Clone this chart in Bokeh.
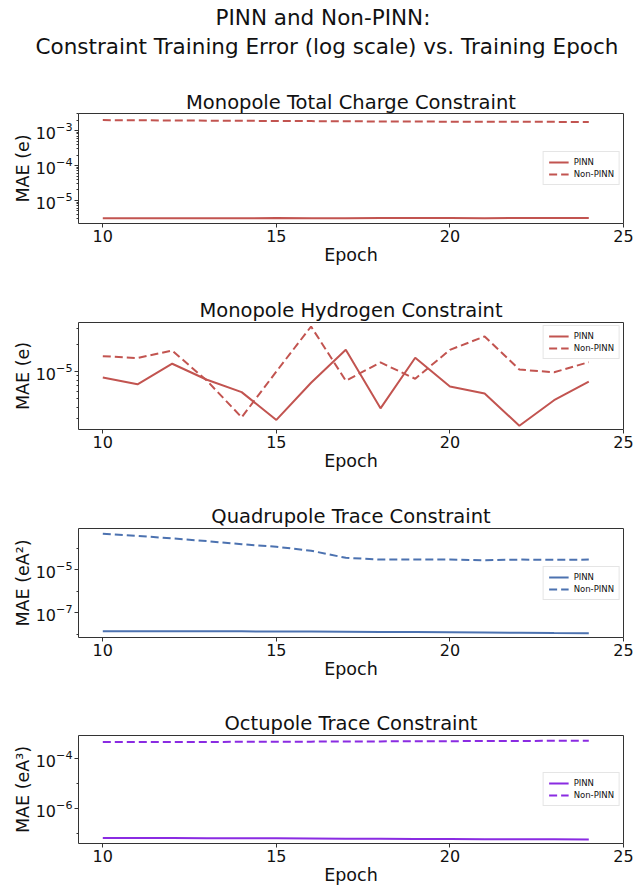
from bokeh.plotting import figure
from bokeh.layouts import column
from bokeh.models import Title, FixedTicker, Range1d
from bokeh.embed import file_html
from bokeh.resources import INLINE

# ---- data -------------------------------------------------------------
epochs = list(range(10, 25))

charge_pinn = [3.10e-6, 3.08e-6, 3.12e-6, 3.10e-6, 3.11e-6, 3.13e-6, 3.12e-6, 3.12e-6,
               3.14e-6, 3.15e-6, 3.13e-6, 3.12e-6, 3.14e-6, 3.15e-6, 3.16e-6]
charge_nonpinn = [2.00e-3, 1.98e-3, 1.95e-3, 1.93e-3, 1.91e-3, 1.89e-3, 1.87e-3, 1.85e-3,
                  1.83e-3, 1.82e-3, 1.80e-3, 1.79e-3, 1.80e-3, 1.78e-3, 1.77e-3]

hydrogen_pinn = [8.6e-6, 7.2e-6, 1.22e-5, 8.1e-6, 5.9e-6, 2.9e-6, 7.5e-6, 1.74e-5,
                 3.9e-6, 1.42e-5, 6.8e-6, 5.7e-6, 2.5e-6, 4.8e-6, 7.7e-6]
hydrogen_nonpinn = [1.48e-5, 1.41e-5, 1.71e-5, 7.9e-6, 3.1e-6, 1.0e-5, 3.16e-5, 7.9e-6,
                    1.26e-5, 8.3e-6, 1.74e-5, 2.45e-5, 1.05e-5, 9.8e-6, 1.27e-5]

quad_pinn = [1.35e-8, 1.35e-8, 1.34e-8, 1.34e-8, 1.33e-8, 1.32e-8, 1.30e-8, 1.28e-8,
             1.26e-8, 1.24e-8, 1.21e-8, 1.18e-8, 1.15e-8, 1.12e-8, 1.10e-8]
quad_nonpinn = [4.6e-4, 3.7e-4, 2.8e-4, 2.1e-4, 1.5e-4, 1.15e-4, 7.5e-5, 3.5e-5,
                2.9e-5, 2.9e-5, 2.9e-5, 2.7e-5, 2.9e-5, 2.85e-5, 2.9e-5]

oct_pinn = [6.5e-8, 6.45e-8, 6.4e-8, 6.35e-8, 6.3e-8, 6.25e-8, 6.2e-8, 6.1e-8,
            6.0e-8, 5.95e-8, 5.9e-8, 5.8e-8, 5.75e-8, 5.7e-8, 5.6e-8]
oct_nonpinn = [4.30e-4, 4.32e-4, 4.35e-4, 4.38e-4, 4.42e-4, 4.46e-4, 4.50e-4, 4.55e-4,
               4.60e-4, 4.65e-4, 4.70e-4, 4.75e-4, 4.80e-4, 4.85e-4, 4.90e-4]

x_ticks = [10, 15, 20, 25]

charge_major = [1e-5, 1e-4, 1e-3]
charge_minor = [k * 10.0 ** e for e in (-6, -5, -4, -3) for k in range(2, 10)]
hydrogen_major = [1e-5]
hydrogen_minor = [3e-6, 4e-6, 5e-6, 6e-6, 7e-6, 8e-6, 9e-6, 2e-5, 3e-5]
quad_major = [1e-7, 1e-5]
quad_minor = [1e-8, 1e-6, 1e-4]
oct_major = [1e-6, 1e-4]
oct_minor = [1e-7, 1e-5]

FONT = "DejaVu Sans"


def style_title(t, size, standoff):
    t.align = "center"
    t.text_font = FONT
    t.text_font_size = size
    t.text_font_style = "normal"
    t.text_color = "#111111"
    t.standoff = standoff


def make_panel(title, ylabel, color, pinn, nonpinn, y_lo, y_hi, majors, minors,
               height, top, bottom, legend_loc):
    p = figure(width=636, height=height,
               x_range=Range1d(9.3, 25), y_range=Range1d(y_lo, y_hi),
               y_axis_type="log", output_backend="svg", toolbar_location=None,
               min_border_left=78, min_border_right=13,
               min_border_top=top, min_border_bottom=bottom)
    p.grid.visible = False
    p.outline_line_color = "#333333"
    p.outline_line_width = 1
    p.background_fill_color = "white"
    p.border_fill_color = "white"

    xa = p.xaxis[0]
    xa.ticker = FixedTicker(ticks=x_ticks)
    xa.axis_label = "Epoch"
    ya = p.yaxis[0]
    ya.ticker = FixedTicker(ticks=majors, minor_ticks=minors)
    ya.axis_label = ylabel
    for ax in (xa, ya):
        ax.axis_line_color = None
        ax.major_tick_in = 0
        ax.major_tick_out = 4
        ax.major_tick_line_color = "#333333"
        ax.minor_tick_in = 0
        ax.minor_tick_out = 2
        ax.minor_tick_line_color = "#333333"
        ax.major_label_text_font = FONT
        ax.major_label_text_font_size = "16px"
        ax.major_label_text_color = "#111111"
        ax.major_label_standoff = 2
        ax.axis_label_text_font = FONT
        ax.axis_label_text_font_size = "17.5px"
        ax.axis_label_text_font_style = "normal"
        ax.axis_label_text_color = "#111111"
        ax.axis_label_standoff = 0
    xa.minor_tick_line_color = None

    p.line(epochs, pinn, line_color=color, line_width=2, legend_label="PINN")
    p.line(epochs, nonpinn, line_color=color, line_width=2, line_dash="8 4",
           legend_label="Non-PINN")

    lg = p.legend[0]
    lg.location = legend_loc
    lg.label_text_font = FONT
    lg.label_text_font_size = "8.5px"
    lg.label_text_color = "#111111"
    lg.glyph_width = 20
    lg.glyph_height = 10
    lg.label_height = 10
    lg.label_standoff = 5
    lg.spacing = 2
    lg.padding = 5
    lg.margin = 3
    lg.border_line_color = "#cccccc"
    lg.border_line_width = 1
    lg.background_fill_alpha = 0.85

    # panel heading, sitting directly on the frame
    if title is not None:
        p.title.text = title
        style_title(p.title, "19.5px", 2)
    return p


p1 = make_panel(None, "MAE (e)", "#C25450",
                charge_pinn, charge_nonpinn, 2.19e-6, 3.09e-3,
                charge_major, charge_minor, 290, 113, 67, "center_right")
p2 = make_panel("Monopole Hydrogen Constraint", "MAE (e)", "#C25450",
                hydrogen_pinn, hydrogen_nonpinn, 2.27e-6, 3.5e-5,
                hydrogen_major, hydrogen_minor, 207, 32, 68, "top_right")
p3 = make_panel("Quadrupole Trace Constraint", "MAE (eA²)", "#4C72B0",
                quad_pinn, quad_nonpinn, 6.9e-9, 8.1e-4,
                quad_major, quad_minor, 206, 31, 66, "center_right")
p4 = make_panel("Octupole Trace Constraint", "MAE (eA³)", "#8A2BE2",
                oct_pinn, oct_nonpinn, 3.9e-8, 7.9e-4,
                oct_major, oct_minor, 184, 32, 40, "center_right")

# first panel: figure heading (two lines) stacked above the panel heading
p1.title.text = "PINN and Non-PINN:"
style_title(p1.title, "21.5px", 2)
p1.title.align = "left"
p1.title.offset = 137

panel1_title = Title(text="Monopole Total Charge Constraint")
style_title(panel1_title, "19.5px", 0)
p1.add_layout(panel1_title, "above")

# blank gap between the panel heading and the figure heading
gap = Title(text=" ")
style_title(gap, "1px", 26)
p1.add_layout(gap, "above")

sub_line = Title(text="Constraint Training Error (log scale) vs. Training Epoch")
style_title(sub_line, "21.5px", 2)
sub_line.align = "left"
sub_line.offset = -43
p1.add_layout(sub_line, "above")

layout = column(p1, p2, p3, p4, spacing=0)

with open("out.html", "w") as f:
    f.write(file_html(layout, INLINE))
